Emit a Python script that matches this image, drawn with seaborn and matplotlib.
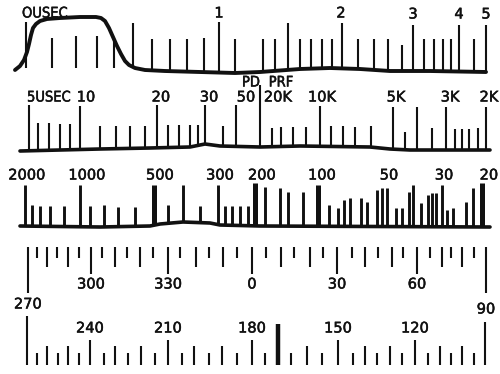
import numpy as np
import pandas as pd
import matplotlib
import matplotlib.pyplot as plt
import matplotlib.patheffects as pe
import seaborn as sns

matplotlib.use('Agg')

# ---- row 1: pulse width scale (usec) ----
curve1_x = [15, 20, 24, 27, 29, 31, 33, 36, 40, 47, 60, 80, 96, 101, 105, 109, 113, 117,
            121, 125, 129, 135, 145, 165, 200, 235, 260, 300, 330, 360, 390, 430, 486]
curve1_y = [70, 66, 60, 52, 44, 35, 28, 24, 21, 19, 18, 17, 17, 18, 21, 28, 37, 46,
            54, 61, 65, 68, 70, 71, 72, 73, 72, 69, 68, 69, 71, 71, 72]
ticks1_x = [26, 52, 76, 97, 114, 133, 152, 170, 187, 204, 219, 235, 263, 275, 288, 300,
            311, 322, 332, 342, 358, 374, 388, 402, 413, 424, 434, 443, 451, 459, 474, 486]
ticks1_top = [22, 38, 36, 36, 38, 23, 39, 39, 39, 38, 22, 39, 39, 39, 23, 39,
              39, 39, 39, 23, 39, 39, 39, 45, 25, 39, 39, 39, 39, 25, 39, 25]
labels1 = ["OUSEC", "1", "2", "3", "4", "5"]
labels1_x = [22, 219, 341, 413, 459, 486]
labels1_y = [13, 13, 13, 14, 14, 14]

# ---- row 2: PRF scale ----
base2_x = [20, 60, 100, 150, 190, 205, 220, 260, 300, 370, 390, 410, 490]
base2_y = [151, 150, 149, 148, 147, 144, 146, 147, 146, 147, 149, 150, 150]
ticks2_x = [29, 38, 49, 60, 70, 80, 100, 116, 130, 145, 157, 168, 179, 190, 198, 205, 223,
            236, 260, 272, 281, 293, 306, 320, 331, 343, 355, 371, 393, 405, 417, 432,
            446, 455, 462, 469, 478, 486]
ticks2_top = [105, 123, 123, 124, 124, 106, 126, 126, 126, 126, 105, 125, 125, 125, 125, 105, 126,
              105, 85, 128, 127, 127, 127, 106, 126, 126, 127, 126, 107, 132, 107, 128,
              107, 129, 129, 129, 128, 107]
labels2 = ["5USEC", "10", "20", "30", "50", "20K", "10K", "5K", "3K", "2K", "PD", "PRF"]
labels2_x = [27, 86, 161, 209, 246, 278, 322, 396, 450, 489, 251, 281]
labels2_y = [97, 97, 97, 97, 97, 97, 97, 97, 97, 97, 82, 82]

# ---- row 3: range scale ----
base3_x = [20, 100, 150, 160, 183, 210, 220, 260, 490]
base3_y = [226, 227, 226, 224, 222, 223, 225, 226, 227]
ticks3_x = [25, 32, 40, 50, 64, 80, 90, 104, 118, 135, 154, 168, 183, 200, 218, 225, 232,
            240, 248, 255, 265, 280, 288, 303, 318, 329, 338, 344, 350, 361, 367, 377,
            382, 387, 396, 402, 409, 413, 421, 428, 432, 436, 442, 447, 453, 466, 473, 482]
ticks3_top = [185, 205, 206, 206, 206, 185, 206, 205, 207, 207, 185, 205, 185, 206, 185, 206, 206,
              206, 206, 183, 187, 188, 192, 192, 185, 205, 208, 200, 198, 198, 202, 190,
              188, 188, 208, 208, 192, 185, 203, 195, 193, 193, 185, 210, 208, 202, 188, 183]
heavy3_x = [154, 255, 318, 393, 482]
labels3 = ["2000", "1000", "500", "300", "200", "100", "50", "30", "20"]
labels3_x = [27, 87, 160, 220, 262, 322, 389, 444, 489]

# ---- rows 4 and 5: bearing scales (degrees, 5 deg steps) ----
deg4 = list(range(270, 451, 5))
ticks4_x = [28, 37, 47, 57, 68, 79, 91, 102, 115, 127, 140, 153, 168, 180, 196, 209, 223,
            237, 252, 266, 281, 294, 310, 323, 337, 352, 365, 378, 392, 403, 417, 430,
            442, 451, 462, 474, 486]
deg5 = list(range(270, 89, -5))
ticks5_x = [27, 37, 47, 58, 68, 79, 90, 104, 115, 128, 141, 155, 168, 182, 194, 209, 222,
            237, 252, 265, 278, 291, 307, 322, 338, 353, 365, 377, 390, 402, 415, 428,
            440, 451, 462, 474, 485]
pointer5_deg = 170

sns.set_theme(style="white")
plt.rcParams['font.family'] = ['DejaVu Sans']
ink = '#111111'
bold_fx = [pe.withStroke(linewidth=0.35, foreground=ink)]


def label(x, y, s, ha='center', size=10.5, stretch='normal'):
    ax.text(x, y, s, ha=ha, va='center', fontsize=size, color=ink,
            fontstretch=stretch, path_effects=bold_fx)


fig = plt.figure(figsize=(5, 3.74), dpi=100)
ax = fig.add_axes([0, 0, 1, 1])
ax.set_xlim(0, 500)
ax.set_ylim(374, 0)
ax.axis('off')

# row 1
c1 = pd.DataFrame({"x": curve1_x, "y": curve1_y})
sns.lineplot(data=c1, x="x", y="y", ax=ax, color=ink, lw=2.8, sort=False)
bot1 = np.maximum(np.interp(ticks1_x, curve1_x, curve1_y), 68)
ax.vlines(ticks1_x, ticks1_top, bot1, color=ink, lw=1.5)
for t, x, y in zip(labels1, labels1_x, labels1_y):
    if t == "OUSEC":
        label(x, y, t, ha='left', size=10.5, stretch='condensed')
    else:
        label(x, y, t)

# row 2
b2 = pd.DataFrame({"x": base2_x, "y": base2_y})
sns.lineplot(data=b2, x="x", y="y", ax=ax, color=ink, lw=2.6)
bot2 = np.interp(ticks2_x, base2_x, base2_y)
ax.vlines(ticks2_x, ticks2_top, bot2, color=ink, lw=1.5)
for t, x, y in zip(labels2, labels2_x, labels2_y):
    if t == "5USEC":
        label(x, y, t, ha='left', size=10.5, stretch='condensed')
    elif t in ("PD", "PRF"):
        label(x, y, t, size=10.5, stretch='condensed')
    else:
        label(x, y, t)

# row 3
b3 = pd.DataFrame({"x": base3_x, "y": base3_y})
sns.lineplot(data=b3, x="x", y="y", ax=ax, color=ink, lw=2.6)
bot3 = np.interp(ticks3_x, base3_x, base3_y)
lw3 = [3.6 if x in heavy3_x else 2.1 for x in ticks3_x]
ax.vlines(ticks3_x, ticks3_top, bot3, color=ink, lw=lw3)
for t, x in zip(labels3, labels3_x):
    label(x, 175, t)


# rows 4 and 5: tick length follows the degree value
def tick_len(d, end_len, mid_len, long_len, short_len):
    if d % 180 == 90:
        return end_len
    if d % 30 == 0:
        return mid_len
    if d % 10 == 0:
        return long_len
    return short_len


bot4 = [247 + tick_len(d, 46, 27, 20, 11) for d in deg4]
ax.vlines(ticks4_x, 247, bot4, color=ink, lw=1.5)
for d, x in zip(deg4, ticks4_x):
    lab = d % 360
    if d % 180 == 90:
        label(x, 304 if lab == 270 else 309, str(lab))
    elif d % 30 == 0:
        label(x, 284, str(lab))

top5 = [365 - tick_len(d, 49 if d == 270 else 43, 25, 19, 12) for d in deg5]
lw5 = [3.2 if d == pointer5_deg else 1.5 for d in deg5]
top5 = [324 if d == pointer5_deg else t for d, t in zip(deg5, top5)]
ax.vlines(ticks5_x, top5, 365, color=ink, lw=lw5)
for d, x in zip(deg5, ticks5_x):
    if d % 30 == 0 and d % 180 != 90:
        label(x, 328, str(d))

fig.savefig("out.png", dpi=100, facecolor='white')
plt.close(fig)
